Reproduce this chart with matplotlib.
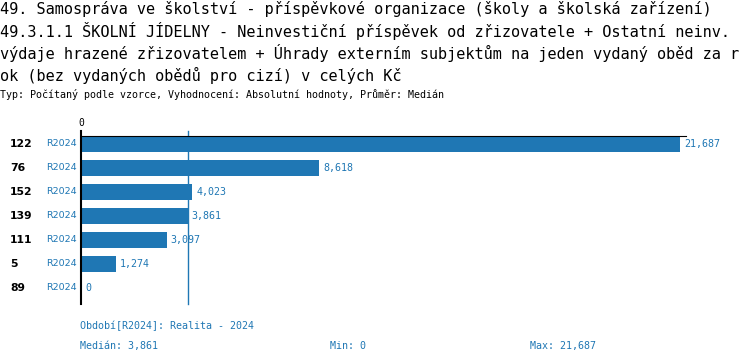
import numpy as np
import matplotlib
matplotlib.use('Agg')
import matplotlib.pyplot as plt

W, H = 750, 364

# data
row_labels = ['122', '76', '152', '139', '111', '5', '89']
period = 'R2024'
values = [21687, 8618, 4023, 3861, 3097, 1274, 0]

title_lines = [
    '49. Samospráva ve školství - příspěvkové organizace (školy a školská zařízení)',
    '49.3.1.1 ŠKOLNÍ JÍDELNY - Neinvestiční příspěvek od zřizovatele + Ostatní neinv.',
    'výdaje hrazené zřizovatelem + Úhrady externím subjektům na jeden vydaný oběd za r',
    'ok (bez vydaných obědů pro cizí) v celých Kč',
]
subtitle = 'Typ: Počítaný podle vzorce, Vyhodnocení: Absolutní hodnoty, Průměr: Medián'

blue = '#1f77b4'
mono = 'DejaVu Sans Mono'
PT = 72 / 100  # points per pixel


def fx(px):
    return px / W


def fy(py):
    return 1 - py / H


fig = plt.figure(figsize=(W / 100, H / 100), dpi=100)

# axes box in pixels: x 81..686, y 136..304
ax = fig.add_axes([fx(81), fy(304), fx(686) - fx(81), fy(136) - fy(304)])

y = np.arange(len(values))
ax.barh(y, values, height=0.65, color=blue, zorder=2)
ax.set_xlim(0, max(values) * 1.01)
ax.set_ylim(len(values) - 1 + 0.67, -0.33)

med = np.median(values)
ax.axvline(med, color=blue, lw=1, zorder=1, ymax=1.03, clip_on=False)

for s in ['right', 'bottom']:
    ax.spines[s].set_visible(False)
ax.spines['top'].set_color('black')
ax.spines['left'].set_color('black')
ax.spines['left'].set_linewidth(1.5)
ax.spines['left'].set_bounds(len(values) - 1 + 0.67, -0.55)
ax.set_xticks([])
ax.set_yticks([])

for i, v in enumerate(values):
    ax.annotate(f'{v:,}', (v, i), xytext=(4 * PT, 0), textcoords='offset points',
                va='center', ha='left', color=blue, fontsize=7.2, family=mono)
    ax.annotate(period, (0, i), xytext=(-4 * PT, 0), textcoords='offset points',
                va='center', ha='right', color=blue, fontsize=6.8)
    ax.annotate(row_labels[i], (0, i), xytext=(-71 * PT, 0), textcoords='offset points',
                va='center', ha='left', color='black', fontsize=7.8, fontweight='bold')

ax.annotate('0', (0, -0.33), xytext=(0, 6), textcoords='offset points',
            va='bottom', ha='center', fontsize=7, family=mono)

# titles
for k, line in enumerate(title_lines):
    fig.text(fx(0), fy(9 + 22 * k), line, fontsize=11.0, family=mono,
             va='center', ha='left')
fig.text(fx(0), fy(95), subtitle, fontsize=7.2, family=mono, va='center', ha='left')

# footer
fig.text(fx(80), fy(326), f'Období[{period}]: Realita - 2024', fontsize=7.2,
         family=mono, color=blue, va='center')
fig.text(fx(80), fy(346), f'Medián: {med:,.0f}', fontsize=7.2, family=mono,
         color=blue, va='center')
fig.text(fx(330), fy(346), f'Min: {min(values):,}', fontsize=7.2, family=mono,
         color=blue, va='center')
fig.text(fx(530), fy(346), f'Max: {max(values):,}', fontsize=7.2, family=mono,
         color=blue, va='center')

fig.savefig('out.png', dpi=100)
